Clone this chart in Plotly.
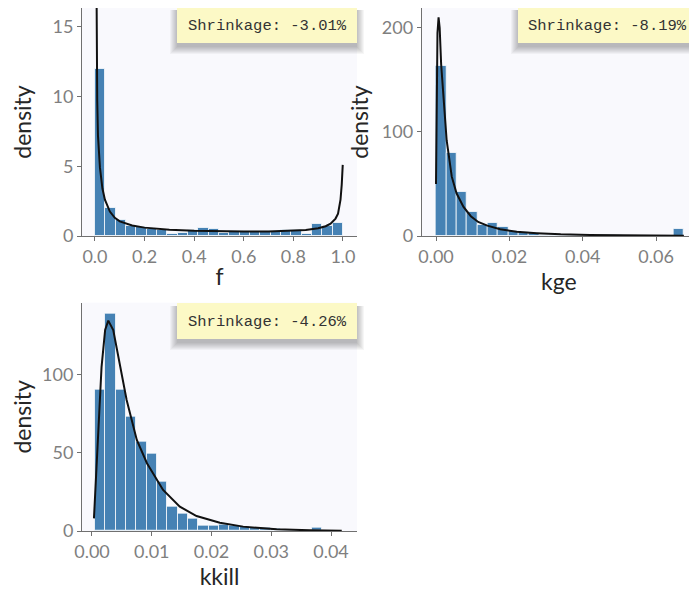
import plotly.graph_objects as go

# ---------------- data ----------------
# panel 1 : f
f_bin_start = 0.0
f_bin_width = 0.04167
f_density = [12.0, 2.04, 1.18, 0.75, 0.65, 0.50, 0.46, 0.17, 0.24, 0.41, 0.60, 0.48,
             0.22, 0.34, 0.34, 0.34, 0.34, 0.34, 0.41, 0.41, 0.17, 0.89, 0.75, 0.93]
f_curve_x = [0.004, 0.006, 0.009, 0.012, 0.016, 0.02, 0.03, 0.04, 0.06, 0.08, 0.10, 0.15,
             0.20, 0.30, 0.40, 0.50, 0.60, 0.70, 0.80, 0.85, 0.90, 0.93, 0.95, 0.97,
             0.98, 0.99, 0.995, 0.999]
f_curve_y = [24.0, 16.5, 9.7, 7.2, 5.7, 4.9, 3.4, 2.6, 1.75, 1.3, 1.05, 0.75,
             0.60, 0.45, 0.37, 0.33, 0.32, 0.33, 0.38, 0.43, 0.55, 0.70, 0.88, 1.25,
             1.6, 2.6, 3.7, 5.1]
f_ticks = [0.0, 0.2, 0.4, 0.6, 0.8, 1.0]
f_yticks = [0, 5, 10, 15]

# panel 2 : kge
kge_bin_start = 0.0
kge_bin_width = 0.00282
kge_density = [163, 80, 42, 23, 11, 12.5, 8.5, 4.5, 4.0, 2.5, 1.2, 1.2,
               0.5, 0.5, 0.8, 0.3, 0.8, 0.8, 0.3, 0.3, 0, 0, 0, 7.2]
kge_curve_x = [0.0, 0.0002, 0.0004, 0.0007, 0.001, 0.0014, 0.002, 0.0029, 0.0043, 0.0056,
               0.0075, 0.0095, 0.0115, 0.014, 0.0175, 0.022, 0.0275, 0.034, 0.042, 0.05,
               0.058, 0.0676]
kge_curve_y = [50, 130, 195, 210, 200, 165, 135, 92, 57, 41,
               28, 19, 13.5, 10, 6.5, 4.0, 2.7, 1.6, 1.0, 0.6,
               0.4, 0.25]
kge_ticks = [0.00, 0.02, 0.04, 0.06]
kge_yticks = [0, 100, 200]

# panel 3 : kkill
kkill_bin_start = 0.0005
kkill_bin_width = 0.00173
kkill_density = [90.8, 139, 90.8, 73, 57.3, 49.5, 31.6, 15.6, 11.3, 8.1, 3.2, 3.2,
                 3.8, 3.5, 2.8, 2.3, 2.0, 1.7, 0.6, 0.6, 0.3, 2.3, 0, 0]
kkill_curve_x = [0.00033, 0.00105, 0.0016, 0.0022, 0.00273, 0.00356, 0.0047, 0.0058, 0.0075,
                 0.0092, 0.0119, 0.0147, 0.0175, 0.0214, 0.0253, 0.0309, 0.0365, 0.0418]
kkill_curve_y = [8.1, 62.6, 105, 128.8, 134.8, 128.8, 105, 84, 58.3,
                 43.4, 26.3, 15.6, 9.6, 5.3, 2.8, 1.1, 0.45, 0.2]
kkill_ticks = [0.00, 0.01, 0.02, 0.03, 0.04]
kkill_yticks = [0, 50, 100]

shrinkage = ["Shrinkage: -3.01%", "Shrinkage: -8.19%", "Shrinkage: -4.26%"]
x_titles = ["f", "kge", "kkill"]

# ---------------- figure ----------------
# the page adds an 8px body margin, so the figure is offset by 8px
OFF = 8
W, H = 697 - OFF, 593 - OFF
def px(x):
    return (x - OFF) / W
def py(y):
    return min(1.0, 1 - (y - OFF) / H)
def pyu(y):
    return 1 - (y - OFF) / H

BAR = "#4682B4"
fig = go.Figure()

panels = [
    (f_bin_start, f_bin_width, f_density, f_curve_x, f_curve_y, "x", "y"),
    (kge_bin_start, kge_bin_width, kge_density, kge_curve_x, kge_curve_y, "x2", "y2"),
    (kkill_bin_start, kkill_bin_width, kkill_density, kkill_curve_x, kkill_curve_y, "x3", "y3"),
]
for start, width, dens, cx, cy, xa, ya in panels:
    centers = [start + width * (i + 0.5) for i in range(len(dens))]
    fig.add_trace(go.Bar(x=centers, y=dens, width=width, xaxis=xa, yaxis=ya,
                         marker=dict(color=BAR, line=dict(color="rgba(255,255,255,0.75)", width=1)),
                         showlegend=False, hoverinfo="skip"))
    fig.add_trace(go.Scatter(x=cx, y=cy, mode="lines", xaxis=xa, yaxis=ya,
                             line=dict(color="#111111", width=2), showlegend=False,
                             hoverinfo="skip"))

tickfont = dict(family="Lato", size=18, color="#7f7f7f")
titlefont = dict(family="Lato", size=23, color="#262626")
axcol = "#707070"

def xax(dom, rng, ticks, fmt, anchor, title):
    return dict(domain=dom, range=rng, tickvals=ticks, tickformat=fmt, anchor=anchor,
                showline=True, linecolor=axcol, linewidth=1, ticks="outside", ticklen=4,
                tickcolor=axcol, showgrid=False, zeroline=False, tickfont=tickfont,
                title=dict(text=title, font=titlefont, standoff=3), automargin=False)

def yax(dom, rng, ticks, anchor, standoff):
    return dict(domain=dom, range=rng, tickvals=ticks, anchor=anchor,
                showline=True, linecolor=axcol, linewidth=1, ticks="outside", ticklen=4,
                tickcolor=axcol, showgrid=False, zeroline=False, tickfont=tickfont,
                title=dict(text="density", font=titlefont, standoff=standoff), automargin=False)

d1x = [px(82), px(357)]
d2x = [px(421.7), px(696)]
dtop = [py(236), py(7)]
dbot = [py(531), py(302.7)]

fig.update_layout(
    width=W, height=H,
    margin=dict(l=0, r=0, t=0, b=0),
    paper_bgcolor="white", plot_bgcolor="#F9F9FD",
    barmode="overlay", bargap=0,
    xaxis=xax(d1x, [-0.0524, 1.0565], f_ticks, ".1f", "y", x_titles[0]),
    yaxis=yax(dtop, [0, 16.35], f_yticks, "x", 15),
    xaxis2=xax(d2x, [-0.0039, 0.0709], kge_ticks, ".2f", "y2", x_titles[1]),
    yaxis2=yax(dtop, [0, 219], kge_yticks, "x2", 6),
    xaxis3=xax(d1x, [-0.00167, 0.04435], kkill_ticks, ".2f", "y3", x_titles[2]),
    yaxis3=yax(dbot, [0, 146.3], kkill_yticks, "x3", 15),
)

# annotation boxes with a soft shadow
boxes = [(177, 357, 7, 43), (518, 697, 7, 43), (177, 357, 303, 339)]
shapes = []
annos = []
for (x0, x1, y0, y1), txt in zip(boxes, shrinkage):
    for k in range(8, 0, -1):
        shapes.append(dict(type="rect", xref="paper", yref="paper",
                           x0=px(x0 - k + 1), x1=px(x1 + k - 1),
                           y0=pyu(y1 + 3 + k), y1=pyu(y0 + 3),
                           fillcolor="rgba(0,0,0,0.035)", line=dict(width=0), layer="above"))
    shapes.append(dict(type="rect", xref="paper", yref="paper",
                       x0=px(x0), x1=px(x1), y0=pyu(y1), y1=pyu(y0),
                       fillcolor="#FCF9C6", line=dict(width=0), layer="above"))
    annos.append(dict(text=txt, xref="paper", yref="paper",
                      x=px((x0 + x1) / 2), y=pyu((y0 + y1) / 2 + 1),
                      xanchor="center", yanchor="middle", showarrow=False,
                      font=dict(family="Liberation Mono", size=15.5, color="#333333")))
fig.update_layout(shapes=shapes, annotations=annos)

fig.write_html("out.html")
